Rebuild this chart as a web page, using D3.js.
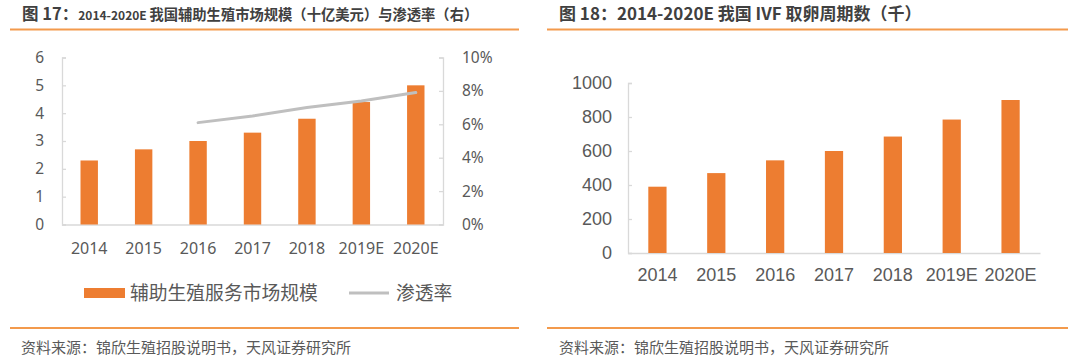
<!DOCTYPE html>
<html><head><meta charset="utf-8">
<script src="https://cdn.jsdelivr.net/npm/d3@7/dist/d3.min.js"></script>
<style>
html,body{margin:0;padding:0;background:#fff;}
svg{display:block;}
</style></head>
<body>
<svg id="c" width="1080" height="358"></svg>
<script>
// ---- data ----
const years = ["2014","2015","2016","2017","2018","2019E","2020E"];
const marketSize = [2.3, 2.7, 3.0, 3.3, 3.8, 4.4, 5.0];          // 十亿美元
const penetrationYears = ["2016","2017","2018","2019E","2020E"];
const penetration = [0.061, 0.065, 0.070, 0.074, 0.079];          // 渗透率
const ivfCycles = [390, 470, 545, 600, 685, 785, 900];            // 千
const leftTicks = [0,1,2,3,4,5,6];
const rightPctTicks = [0,0.02,0.04,0.06,0.08,0.10];
const ivfTicks = [0,200,400,600,800,1000];

const svg = d3.select("#c");
const ORANGE = "#ED7D31", GRAY_LINE = "#BFBFBF", AXIS = "#D9D9D9", TXT = "#595959";
const CJK = "'Noto Sans CJK SC','Noto Sans',sans-serif";

// ---- titles ----
const t1 = svg.append("text").attr("x",22).attr("y",20).attr("fill","#404040")
  .attr("font-family",CJK).attr("font-weight","bold");
t1.append("tspan").attr("font-size",16.5).text("图 17：");
t1.append("tspan").attr("font-size",12).text("2014-2020E ");
t1.append("tspan").attr("font-size",14.3).text("我国辅助生殖市场规模（十亿美元）与渗透率（右）");

svg.append("text").attr("x",559).attr("y",20).attr("fill","#404040")
  .attr("font-family",CJK).attr("font-weight","bold").attr("font-size",17)
  .text("图 18：2014-2020E 我国 IVF 取卵周期数（千）");

// underlines & footer lines
[[10,519],[547,1068]].forEach(([a,b])=>{
  svg.append("line").attr("x1",a).attr("x2",b).attr("y1",29.5).attr("y2",29.5)
    .attr("stroke","#F39A4C").attr("stroke-width",2);
  svg.append("line").attr("x1",a).attr("x2",b).attr("y1",328).attr("y2",328)
    .attr("stroke","#F39A4C").attr("stroke-width",2);
});
svg.append("text").attr("x",21).attr("y",353).attr("font-family",CJK).attr("font-size",15)
  .attr("fill",TXT).text("资料来源：锦欣生殖招股说明书，天风证券研究所");
svg.append("text").attr("x",559).attr("y",353).attr("font-family",CJK).attr("font-size",15)
  .attr("fill",TXT).text("资料来源：锦欣生殖招股说明书，天风证券研究所");

// ---- left chart ----
const x1 = d3.scaleBand().domain(years).range([62,443]).paddingInner(0.68).paddingOuter(0.34);
const y1 = d3.scaleLinear().domain([0,6]).range([224.5,57.5]);
const y1r = d3.scaleLinear().domain([0,0.10]).range([224.5,57.5]);

function styleAxis(g, fs, family){
  g.select(".domain").attr("stroke",AXIS).attr("stroke-width",1.3);
  g.selectAll(".tick line").attr("stroke",AXIS).attr("stroke-width",1.3);
  g.selectAll(".tick text").attr("fill",TXT).attr("font-size",fs).attr("font-family",family);
}

svg.append("g").attr("transform","translate(62,0)")
  .call(d3.axisLeft(y1).tickValues(leftTicks).tickFormat(d3.format("d")).tickSizeInner(-4).tickSizeOuter(-4).tickPadding(18))
  .call(g=>styleAxis(g,15.5,"'Noto Sans',sans-serif"));
svg.append("g").attr("transform","translate(443,0)")
  .call(d3.axisRight(y1r).tickValues(rightPctTicks).tickFormat(d3.format(".0%")).tickSizeInner(-4).tickSizeOuter(-4).tickPadding(19))
  .call(g=>styleAxis(g,15.5,"'Noto Sans',sans-serif"));
svg.append("g").attr("transform","translate(0,224.5)")
  .call(d3.axisBottom(x1).tickSize(0).tickSizeOuter(0).tickPadding(18))
  .call(g=>styleAxis(g,16,"'Noto Sans',sans-serif"));

svg.append("g").selectAll("rect").data(years).join("rect")
  .attr("x",d=>x1(d)).attr("width",x1.bandwidth())
  .attr("y",(d,i)=>y1(marketSize[i])).attr("height",(d,i)=>y1(0)-y1(marketSize[i]))
  .attr("fill",ORANGE);

svg.append("path").datum(penetrationYears.map((d,i)=>[x1(d)+x1.bandwidth()/2, y1r(penetration[i])]))
  .attr("d",d3.line()).attr("fill","none").attr("stroke",GRAY_LINE).attr("stroke-width",3)
  .attr("stroke-linecap","round");

// legend
svg.append("rect").attr("x",84).attr("y",288).attr("width",41).attr("height",10).attr("fill",ORANGE);
svg.append("text").attr("x",130).attr("y",299.5).attr("font-family",CJK).attr("font-size",18.8)
  .attr("fill",TXT).text("辅助生殖服务市场规模");
svg.append("line").attr("x1",349).attr("x2",389).attr("y1",293).attr("y2",293)
  .attr("stroke",GRAY_LINE).attr("stroke-width",3);
svg.append("text").attr("x",396).attr("y",299.5).attr("font-family",CJK).attr("font-size",18.8)
  .attr("fill",TXT).text("渗透率");

// ---- right chart ----
const x2 = d3.scaleBand().domain(years).range([628,1040]).paddingInner(0.69).paddingOuter(0.345);
const y2 = d3.scaleLinear().domain([0,1000]).range([253,83]);

svg.append("g").attr("transform","translate(628,0)")
  .call(d3.axisLeft(y2).tickValues(ivfTicks).tickFormat(d3.format("d")).tickSizeInner(-4).tickSizeOuter(-4).tickPadding(16))
  .call(g=>styleAxis(g,18,"'Liberation Sans',sans-serif"));
svg.append("g").attr("transform","translate(0,253)")
  .call(d3.axisBottom(x2).tickSize(0).tickSizeOuter(0).tickPadding(15))
  .call(g=>styleAxis(g,18,"'Liberation Sans',sans-serif"));

svg.append("g").selectAll("rect").data(years).join("rect")
  .attr("x",d=>x2(d)).attr("width",x2.bandwidth())
  .attr("y",(d,i)=>y2(ivfCycles[i])).attr("height",(d,i)=>y2(0)-y2(ivfCycles[i]))
  .attr("fill",ORANGE);
</script>
</body></html>
